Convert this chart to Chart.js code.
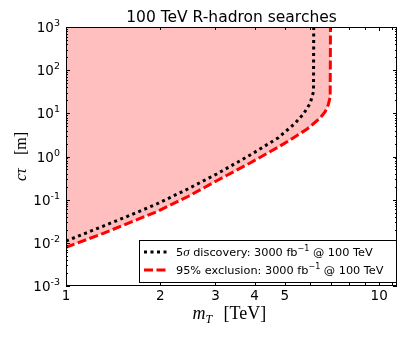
<!DOCTYPE html>
<html>
<head>
<meta charset="UTF-8">
<title>100 TeV R-hadron searches</title>
<script src="https://cdn.jsdelivr.net/npm/chart.js@4.4.0"></script>
<style>
  html, body { margin: 0; padding: 0; background: #fff; }
  #wrap { width: 407px; height: 339px; }
</style>
</head>
<body>
<div id="wrap"><canvas id="rhadron" width="407" height="339"></canvas></div>
<script>
// 5 sigma discovery reach: mass [TeV] vs c*tau [m]
const discMass = [1.0, 1.316, 1.57, 1.949, 2.46, 3.03, 3.871, 4.768, 5.39, 5.73, 6.02, 6.17, 6.18];
const discCtau = [0.0110, 0.0245, 0.041, 0.0794, 0.18, 0.394, 1.08, 2.73, 5.88, 9.66, 17.1, 31.7, 1000];
// 95% exclusion
const exclMass = [1.0, 1.316, 1.57, 1.949, 2.46, 3.03, 3.871, 4.828, 5.312, 5.888, 6.153, 6.479, 6.723, 6.873, 6.975, 6.99];
const exclCtau = [0.0079, 0.0166, 0.028, 0.0527, 0.12, 0.275, 0.708, 1.75, 2.68, 4.34, 5.66, 7.8, 10.9, 15.6, 23.9, 1000];

const xTickLabels = [1, 2, 3, 4, 5, 10];
const xMinorTicks = [6, 7, 8, 9, 11];
const yDecades = [-3, -2, -1, 0, 1, 2, 3];
const legendLabels = ['5σ discovery: 3000 fb⁻¹ @ 100 TeV', '95% exclusion: 3000 fb⁻¹ @ 100 TeV'];
const titleText = '100 TeV R-hadron searches';

const SANS = '"DejaVu Sans", sans-serif';
const SERIF = '"Liberation Serif", serif';

function toPoints(xs, ys) {
  return xs.map((v, i) => ({ x: v, y: ys[i] }));
}

// text with italic sigma and superscript -1
function drawRich(ctx, text, x, y) {
  text.split(/(σ|⁻¹)/).forEach(p => {
    if (!p) return;
    if (p === 'σ') {
      ctx.font = 'italic 13px ' + SERIF;
      ctx.fillText(p, x, y);
      x += ctx.measureText(p).width;
    } else if (p === '⁻¹') {
      ctx.font = '8px ' + SANS;
      ctx.fillText('−1', x, y - 5);
      x += ctx.measureText('−1').width;
    } else {
      ctx.font = '11.3px ' + SANS;
      ctx.fillText(p, x, y);
      x += ctx.measureText(p).width;
    }
  });
}

const axesPlugin = {
  id: 'axesPlugin',
  afterDatasetsDraw(chart) {
    const { ctx, chartArea: a, scales: { x, y } } = chart;
    ctx.save();
    ctx.strokeStyle = '#000';
    ctx.lineWidth = 1;
    ctx.strokeRect(a.left + 0.5, a.top + 0.5, a.right - a.left - 1, a.bottom - a.top - 1);

    const tickX = (v, len) => {
      const px = Math.round(x.getPixelForValue(v)) + 0.5;
      ctx.beginPath();
      ctx.moveTo(px, a.bottom); ctx.lineTo(px, a.bottom - len);
      ctx.moveTo(px, a.top); ctx.lineTo(px, a.top + len);
      ctx.stroke();
    };
    const tickY = (v, len) => {
      const py = Math.round(y.getPixelForValue(v)) + 0.5;
      ctx.beginPath();
      ctx.moveTo(a.left, py); ctx.lineTo(a.left + len, py);
      ctx.moveTo(a.right, py); ctx.lineTo(a.right - len, py);
      ctx.stroke();
    };
    xTickLabels.forEach(v => tickX(v, v === 1 || v === 10 ? 4 : 3));
    xMinorTicks.forEach(v => tickX(v, 3));
    yDecades.forEach(d => {
      tickY(Math.pow(10, d), 4);
      if (d < 3) for (let m = 2; m <= 9; m++) tickY(m * Math.pow(10, d), 2);
    });

    // tick labels
    ctx.fillStyle = '#000';
    ctx.textBaseline = 'alphabetic';
    ctx.font = '13.5px ' + SANS;
    ctx.textAlign = 'center';
    xTickLabels.forEach(v => {
      ctx.fillText(String(v), x.getPixelForValue(v), a.bottom + 14);
    });
    ctx.textAlign = 'right';
    yDecades.forEach(d => {
      const py = y.getPixelForValue(Math.pow(10, d));
      const exp = d < 0 ? '-' + (-d) : String(d);
      ctx.font = '9.5px ' + SANS;
      const ew = ctx.measureText(exp).width;
      const right = a.left - 6;
      ctx.fillText(exp, right, py - 1);
      ctx.font = '13.5px ' + SANS;
      ctx.fillText('10', right - ew, py + 5);
    });

    // title
    ctx.textAlign = 'center';
    ctx.font = '15.5px ' + SANS;
    ctx.fillText(titleText, (a.left + a.right) / 2, a.top - 5);

    // x axis title: m_T [TeV]
    ctx.textAlign = 'left';
    const cx = (a.left + a.right) / 2;
    let sx = cx - 39;
    const by = a.bottom + 33;
    ctx.font = 'italic 18px ' + SERIF;
    ctx.fillText('m', sx, by);
    sx += ctx.measureText('m').width;
    ctx.font = 'italic 12px ' + SERIF;
    ctx.fillText('T', sx, by + 4);
    ctx.font = '18px ' + SERIF;
    ctx.fillText('[TeV]', cx - 8, by);

    // y axis title: c tau [m]
    ctx.save();
    ctx.translate(26, 181);
    ctx.rotate(-Math.PI / 2);
    ctx.font = 'italic 16px ' + SERIF;
    ctx.fillText('cτ', 0, 0);
    ctx.font = '16px ' + SERIF;
    ctx.fillText('[m]', 26, 0);
    ctx.restore();
    ctx.restore();
  },
  afterDraw(chart) {
    const { ctx, chartArea: a } = chart;
    const w = 257, h = 42;
    const bx = Math.round(a.right - 1 - w), by = Math.round(a.bottom - 4 - h);
    ctx.save();
    ctx.fillStyle = '#fff';
    ctx.fillRect(bx, by, w, h);
    ctx.strokeStyle = '#000';
    ctx.lineWidth = 1;
    ctx.strokeRect(bx + 0.5, by + 0.5, w, h);
    chart.data.datasets.forEach((ds, i) => {
      const cy = by + 12 + i * 18;
      ctx.beginPath();
      ctx.setLineDash(ds.borderDash);
      ctx.lineWidth = ds.borderWidth;
      ctx.strokeStyle = ds.borderColor;
      ctx.moveTo(bx + 5, cy);
      ctx.lineTo(bx + 30, cy);
      ctx.stroke();
      ctx.setLineDash([]);
      ctx.fillStyle = '#000';
      ctx.textAlign = 'left';
      ctx.textBaseline = 'alphabetic';
      drawRich(ctx, ds.label, bx + 37, cy + 4);
    });
    ctx.restore();
  }
};

new Chart(document.getElementById('rhadron'), {
  type: 'line',
  data: {
    datasets: [
      {
        label: legendLabels[0],
        data: toPoints(discMass, discCtau),
        borderColor: '#000000',
        borderWidth: 3,
        borderDash: [3, 3.5],
        borderCapStyle: 'butt',
        pointRadius: 0,
        fill: false,
        tension: 0,
        order: 0
      },
      {
        label: legendLabels[1],
        data: toPoints(exclMass, exclCtau),
        borderColor: '#ff0000',
        backgroundColor: '#ffbfbf',
        borderWidth: 3,
        borderDash: [9, 3.5],
        borderCapStyle: 'butt',
        pointRadius: 0,
        fill: 'end',
        tension: 0,
        order: 1
      }
    ]
  },
  options: {
    responsive: false,
    devicePixelRatio: 1,
    animation: false,
    events: [],
    layout: { padding: { left: 66, right: 10, top: 27, bottom: 53 } },
    plugins: {
      legend: { display: false },
      tooltip: { enabled: false },
      title: { display: false }
    },
    scales: {
      x: { type: 'logarithmic', min: 1, max: 11.4, display: false },
      y: { type: 'logarithmic', min: 1e-3, max: 1e3, display: false }
    }
  },
  plugins: [axesPlugin]
});
</script>
</body>
</html>
